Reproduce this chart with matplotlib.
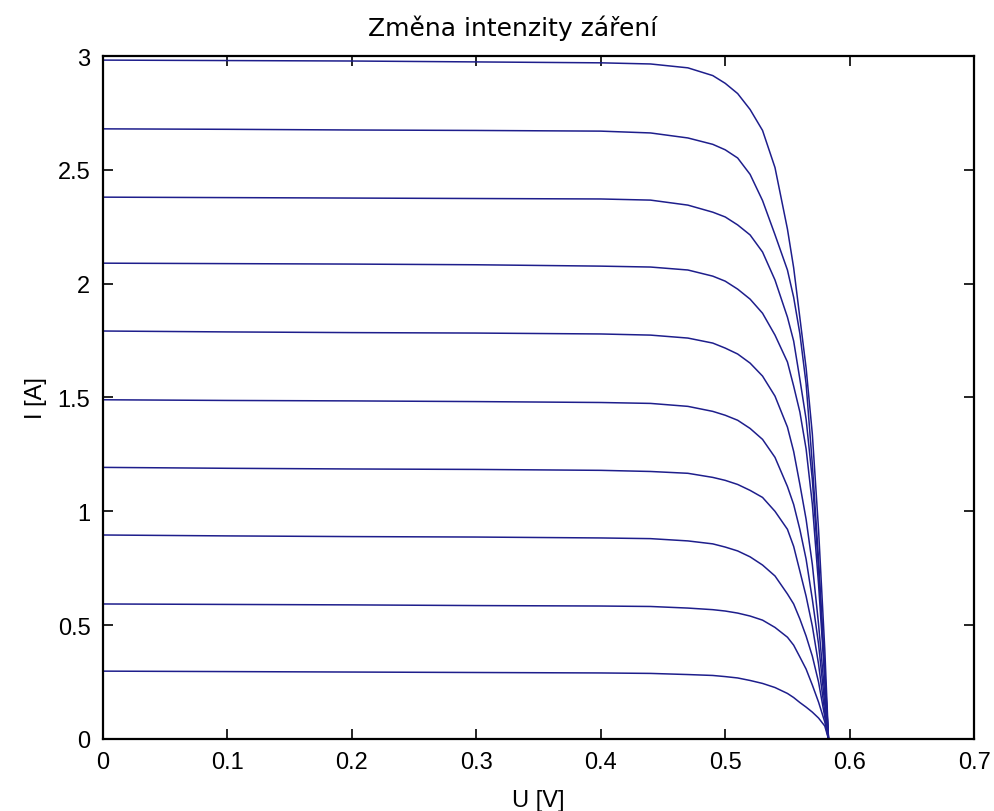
import numpy as np
import matplotlib
matplotlib.use("Agg")
import matplotlib.pyplot as plt

# Voltage grid [V] shared by all I-V curves
voltage = [0.0, 0.1, 0.2, 0.3, 0.4, 0.44, 0.47, 0.49, 0.50, 0.51, 0.52, 0.53,
           0.54, 0.55, 0.555, 0.56, 0.565, 0.57, 0.575, 0.58, 0.583]

# Current [A] for each irradiance level (highest first)
current_1 = [2.982, 2.980, 2.978, 2.974, 2.970, 2.965, 2.948, 2.914, 2.880, 2.835, 2.765,
             2.673, 2.510, 2.240, 2.070, 1.850, 1.630, 1.340, 0.920, 0.395, 0.0]
current_2 = [2.680, 2.678, 2.675, 2.673, 2.670, 2.662, 2.640, 2.612, 2.588, 2.552, 2.480,
             2.365, 2.215, 2.060, 1.940, 1.780, 1.560, 1.207, 0.790, 0.307, 0.0]
current_3 = [2.380, 2.378, 2.376, 2.374, 2.372, 2.367, 2.345, 2.314, 2.293, 2.258, 2.214,
             2.139, 2.016, 1.853, 1.748, 1.580, 1.405, 1.140, 0.747, 0.285, 0.0]
current_4 = [2.090, 2.088, 2.086, 2.083, 2.077, 2.073, 2.060, 2.033, 2.011, 1.976, 1.932,
             1.870, 1.774, 1.656, 1.550, 1.436, 1.274, 1.032, 0.680, 0.263, 0.0]
current_5 = [1.792, 1.788, 1.785, 1.783, 1.779, 1.774, 1.761, 1.739, 1.717, 1.691, 1.651,
             1.594, 1.506, 1.370, 1.263, 1.118, 0.965, 0.767, 0.505, 0.197, 0.0]
current_6 = [1.490, 1.487, 1.485, 1.482, 1.478, 1.474, 1.461, 1.439, 1.422, 1.400, 1.364,
             1.316, 1.237, 1.109, 1.030, 0.920, 0.790, 0.614, 0.417, 0.154, 0.0]
current_7 = [1.193, 1.189, 1.186, 1.184, 1.180, 1.175, 1.167, 1.149, 1.136, 1.118, 1.092,
             1.061, 1.000, 0.921, 0.846, 0.737, 0.627, 0.496, 0.329, 0.118, 0.0]
current_8 = [0.896, 0.892, 0.889, 0.887, 0.883, 0.880, 0.870, 0.857, 0.843, 0.826, 0.800,
             0.764, 0.716, 0.637, 0.593, 0.527, 0.452, 0.364, 0.250, 0.097, 0.0]
current_9 = [0.593, 0.591, 0.589, 0.586, 0.584, 0.582, 0.575, 0.568, 0.562, 0.553, 0.540,
             0.522, 0.490, 0.447, 0.412, 0.360, 0.307, 0.237, 0.162, 0.075, 0.0]
current_10 = [0.298, 0.296, 0.294, 0.292, 0.290, 0.288, 0.283, 0.279, 0.274, 0.268, 0.257,
              0.244, 0.226, 0.200, 0.182, 0.160, 0.140, 0.118, 0.092, 0.057, 0.0]

curves = [current_1, current_2, current_3, current_4, current_5,
          current_6, current_7, current_8, current_9, current_10]

x_ticks = [0, 0.1, 0.2, 0.3, 0.4, 0.5, 0.6, 0.7]
x_tick_labels = ["0", "0.1", "0.2", "0.3", "0.4", "0.5", "0.6", "0.7"]
y_ticks = [0, 0.5, 1, 1.5, 2, 2.5, 3]
y_tick_labels = ["0", "0.5", "1", "1.5", "2", "2.5", "3"]

plt.rcParams["font.family"] = ["Liberation Sans", "DejaVu Sans"]

fig = plt.figure(figsize=(9.95, 8.12), dpi=100, facecolor="white")
ax = fig.add_axes([0.1035, 0.0887, 0.8755, 0.8411])

line_color = "#1e1e8c"
for cur in curves:
    ax.plot(voltage, cur, color=line_color, linewidth=1.1)

ax.set_xlim(0, 0.7)
ax.set_ylim(0, 3)
ax.set_xticks(x_ticks)
ax.set_xticklabels(x_tick_labels)
ax.set_yticks(y_ticks)
ax.set_yticklabels(y_tick_labels)

ax.tick_params(direction="in", length=7, width=1.2, top=True, right=True,
               labelsize=17, pad=9, colors="black")
for sp in ax.spines.values():
    sp.set_linewidth(1.6)
    sp.set_color("black")

fig.text(0.5155, 0.9655, "Změna intenzity záření", fontsize=18,
         family=["DejaVu Sans"], ha="center", va="center")
ax.set_xlabel("U [V]", fontsize=17, labelpad=11)
ax.set_ylabel("I [A]", fontsize=17, labelpad=8)

fig.savefig("out.png", dpi=100, facecolor="white")
